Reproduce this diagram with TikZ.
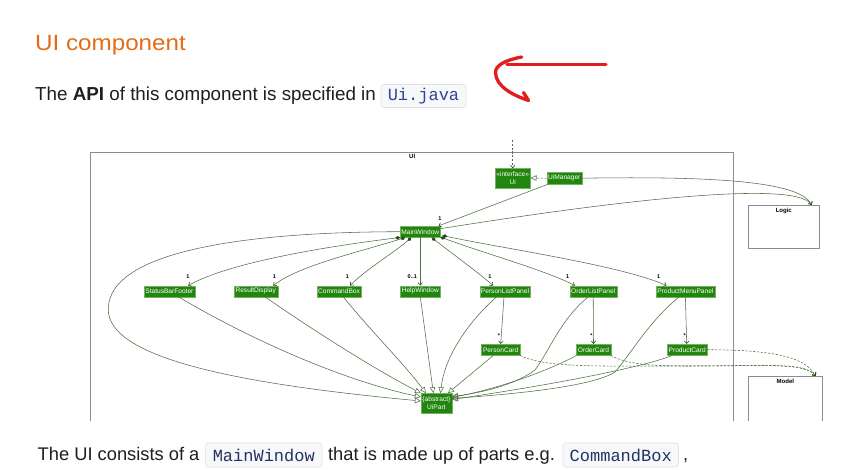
\documentclass[tikz,border=0pt]{standalone}
\usepackage{graphicx}
\usepackage{fontspec}
\setmainfont{Liberation Sans}
\newfontfamily\codefont{Liberation Mono}
\usetikzlibrary{arrows.meta,calc}
\definecolor{umlgreen}{RGB}{33,134,13}
\definecolor{umledge}{RGB}{120,175,100}
\definecolor{umlline}{RGB}{78,112,66}
\definecolor{umldark}{RGB}{30,80,20}
\definecolor{framegray}{RGB}{140,140,140}
\definecolor{titleorange}{RGB}{228,108,22}
\definecolor{redpen}{RGB}{226,29,29}
\definecolor{codebg}{RGB}{246,248,250}
\definecolor{codeborder}{RGB}{222,226,230}
\definecolor{codeblue}{RGB}{45,70,150}
\definecolor{codenavy}{RGB}{35,50,100}
\definecolor{bodytext}{RGB}{30,30,30}
\tikzset{
  umlbox/.style={draw=umledge, line width=0.3pt, fill=umlgreen, text=white,
    font=\fontsize{6.6}{7.4}\selectfont, inner sep=0pt, align=center},
  mult/.style={font=\bfseries\fontsize{5.5}{6}\selectfont, inner sep=0pt, text=black},
  conn/.style={draw=umlline, line width=0.55pt},
  compo/.style={conn, arrows={Diamond[length=5pt,width=3.6pt,fill=umldark,color=umldark]-Straight Barb[length=2.5pt,width=4.5pt,color=umldark]}},
  assoc/.style={conn, arrows={-Straight Barb[length=2.5pt,width=4.5pt,color=umldark]}},
  inherit/.style={conn, arrows={-Triangle[open,length=6pt,width=5.5pt,color=umlline]}},
  depend/.style={conn, dash pattern=on 2.2pt off 1.6pt, arrows={-Straight Barb[length=2.5pt,width=4.5pt,color=umldark]}},
  realize/.style={conn, dash pattern=on 2.2pt off 1.6pt, arrows={-Triangle[open,length=6pt,width=5.5pt,color=umlline]}},
  pkgbox/.style={draw=framegray, line width=0.8pt, inner sep=0pt},
  pkgtitle/.style={font=\bfseries\fontsize{6}{7}\selectfont, inner sep=0pt, text=black},
  codebox/.style={draw=codeborder, fill=codebg, rounded corners=3pt, inner sep=0pt, line width=0.6pt},
  bodyline/.style={anchor=base west, inner sep=0pt, text=bodytext, font=\fontsize{18.3}{22}\selectfont},
}
\begin{document}
\begin{tikzpicture}[x=1pt,y=-1pt]
\useasboundingbox (0,0) rectangle (854,470);
\fill[white] (0,0) rectangle (854,470);

% ---- page text ----
\node[anchor=base west, inner sep=0pt, text=titleorange, font=\fontsize{22}{26}\selectfont] (title) at (35,51) {\scalebox{1.1}[1]{UI component}};
\node[bodyline, font=\fontsize{18.8}{22}\selectfont] (api) at (35,101) {The \textbf{API} of this component is specified in};
\node[codebox, minimum width=85pt, minimum height=23pt, text=codeblue, font=\codefont\fontsize{17}{20}\selectfont] (uijava) at (423.5,96) {Ui.java};

% red hand-drawn arrow
\draw[redpen, line width=3.3pt, line cap=round] (606,64.7) -- (507,64.7);
\draw[redpen, line width=3.3pt, line cap=round, line join=round]
  (521.7,57) .. controls (506,60) and (495,65) .. (495.5,73)
  .. controls (496,86) and (512,95) .. (528.5,100.5) -- (523.5,92.5);

% bottom text
\node[bodyline] (b1) at (37.5,460) {The UI consists of a};
\node[codebox, minimum width=116.4pt, minimum height=24pt, text=codenavy, font=\codefont\fontsize{17}{20}\selectfont] (bmw) at (263.8,455) {MainWindow};
\node[bodyline] (b2) at (327.9,460) {that is made up of parts e.g.};
\node[codebox, minimum width=115.5pt, minimum height=24pt, text=codenavy, font=\codefont\fontsize{17}{20}\selectfont] (bcb) at (620.75,455) {CommandBox};
\node[bodyline] (b3) at (683,460) {,};

% ---- diagram ----
\begin{scope}
\clip (0,120) rectangle (854,420);
\node[pkgbox, minimum width=643pt, minimum height=300pt, anchor=north west] (uipkg) at (90.3,152.3) {};
\node[pkgtitle, anchor=north] (uilbl) at ($(uipkg.north)+(0,2.2)$) {UI};
\node[pkgbox, minimum width=71pt, minimum height=43pt] (logic) at (783.8,226.8) {};
\node[pkgtitle, anchor=north] (logiclbl) at ($(logic.north)+(0,3)$) {Logic};
\node[pkgbox, minimum width=73.4pt, minimum height=64pt, anchor=north west] (model) at (748.3,376) {};
\node[pkgtitle, anchor=north] (modellbl) at ($(model.north)+(0,3)$) {Model};

% classes
\node[umlbox, minimum width=35.3pt, minimum height=19.4pt] (ui) at (512.7,178) {«interface»\\Ui};
\node[umlbox, minimum width=34.7pt, minimum height=11.7pt] (uim) at (564.3,178.2) {UiManager};
\node[umlbox, minimum width=40pt, minimum height=11.3pt] (mw) at (420.3,231.7) {MainWindow};
\node[umlbox, minimum width=51.3pt, minimum height=11pt] (sbf) at (169.4,291.2) {StatusBarFooter};
\node[umlbox, minimum width=44pt, minimum height=11pt] (rd) at (255.7,291.2) {ResultDisplay};
\node[umlbox, minimum width=44pt, minimum height=11pt] (cb) at (339,291.2) {CommandBox};
\node[umlbox, minimum width=40pt, minimum height=11pt] (hw) at (420.3,291.2) {HelpWindow};
\node[umlbox, minimum width=50.6pt, minimum height=11pt] (plp) at (505,291.2) {PersonListPanel};
\node[umlbox, minimum width=47pt, minimum height=11pt] (olp) at (593.2,291.2) {OrderListPanel};
\node[umlbox, minimum width=58.7pt, minimum height=11pt] (pmp) at (685.4,291.2) {ProductMenuPanel};
\node[umlbox, minimum width=38.7pt, minimum height=11.3pt] (pc) at (500.7,349.7) {PersonCard};
\node[umlbox, minimum width=34.4pt, minimum height=11.3pt] (oc) at (593.5,349.7) {OrderCard};
\node[umlbox, minimum width=40.3pt, minimum height=11.3pt] (pdc) at (687.2,349.7) {ProductCard};
\node[umlbox, minimum width=30.7pt, minimum height=19.4pt] (up) at (436.4,403) {\{abstract\}\\UiPart};

% interface links
\coordinate (extern) at (512.7,140);
\draw[depend] (extern) -- (ui.north);
\draw[realize] (uim.west) -- (ui.east);
\draw[assoc] ($(uim.south west)+(1.3,0)$) -- ($(mw.north east)+(-2,0)$);
\node[mult] (m0) at (440,218.5) {1};

% to Logic
\draw[assoc] ($(mw.east)+(0,-3)$) .. controls (620,200) and (795,180) .. ($(logic.north east)+(-8,0)$);
\draw[assoc] (uim.east) .. controls (720,176) and (800,182) .. ($(logic.north east)+(-8,0)$);

% MainWindow parts
\draw[compo] (mw.south west) .. controls (330,246) and (230,262) .. ($(sbf.north east)+(-7,0)$);
\draw[compo] ($(mw.south west)+(5,0)$) .. controls (360,252) and (300,265) .. ($(rd.north east)+(-4.7,0)$);
\draw[compo] ($(mw.south)+(-9,0)$) .. controls (395,252) and (365,270) .. ($(cb.north east)+(-11,0)$);
\draw[assoc] (mw.south) -- (hw.north);
\draw[compo] ($(mw.south)+(11.4,0)$) .. controls (450,252) and (475,270) .. ($(plp.north west)+(13.6,0)$);
\draw[compo] ($(mw.south east)+(0,-0.5)$) .. controls (480,252) and (545,270) .. ($(olp.north west)+(5.3,0)$);
\draw[compo] ($(mw.south east)+(2,-2)$) .. controls (500,248) and (620,265) .. ($(pmp.north west)+(10.7,0)$);
\node[mult] (m1) at (188,276.7) {1};
\node[mult] (m2) at (274.3,276.7) {1};
\node[mult] (m3) at (347.3,276.7) {1};
\node[mult] (m4) at (412.3,276.7) {0..1};
\node[mult] (m5) at (490,276.7) {1};
\node[mult] (m6) at (567.7,276.7) {1};
\node[mult] (m7) at (658.7,276.7) {1};

% panels to cards
\draw[assoc] ($(plp.south)+(-1,0)$) -- (pc.north);
\draw[assoc] (olp.south) -- (oc.north);
\draw[assoc] (pmp.south) -- ($(pdc.north)+(-0.5,0)$);
\node[mult] (s1) at (499,335.5) {*};
\node[mult] (s2) at (591.5,335.5) {*};
\node[mult] (s3) at (684.8,335.5) {*};

% cards to Model
\draw[depend] (pc.south east) .. controls (545,368) and (600,366) .. (680,366)
  .. controls (760,366) and (805,362) .. ($(model.north east)+(-7,0)$);
\draw[depend] (oc.south east) .. controls (630,366) and (660,366) .. (700,366)
  .. controls (770,366) and (805,362) .. ($(model.north east)+(-7,0)$);
\draw[depend] (pdc.east) .. controls (770,350) and (805,356) .. ($(model.north east)+(-7,0)$);

% inheritance to UiPart
\draw[inherit] (mw.west) .. controls (250,232) and (110,250) .. (108.3,308.3)
  .. controls (106,360) and (250,385) .. ($(up.west)+(0,-2)$);
\draw[inherit] ($(sbf.south)+(9,0)$) .. controls (260,345) and (350,382) .. ($(up.west)+(0,-6)$);
\draw[inherit] ($(rd.south)+(9.3,0)$) .. controls (320,335) and (380,372) .. (up.north west);
\draw[inherit] ($(cb.south)+(4.3,0)$) .. controls (370,330) and (405,365) .. ($(up.north west)+(5,0)$);
\draw[inherit] (hw.south) -- ($(up.north)+(-3,0)$);
\draw[inherit] ($(plp.south)+(-8.3,0)$) .. controls (470,320) and (445,355) .. ($(up.north)+(4,0)$);
\draw[inherit] ($(pc.south)+(-7.4,0)$) -- ($(up.north east)+(-4,0)$);
\draw[inherit] ($(olp.south)+(-4.9,0)$) .. controls (560,320) and (550,350) .. (535,370)
  .. controls (515,385) and (480,393) .. ($(up.east)+(0,-6.5)$);
\draw[inherit] ($(oc.south west)+(0.4,0)$) .. controls (545,372) and (500,388) .. ($(up.east)+(0,-5.5)$);
\draw[inherit] ($(pmp.south)+(-6.1,0)$) .. controls (650,320) and (630,355) .. (615,372)
  .. controls (590,388) and (500,395) .. ($(up.east)+(0,-4.5)$);
\draw[inherit] ($(pdc.south)+(-14.9,0)$) .. controls (640,368) and (550,385) .. ($(up.east)+(0,-3.5)$);
\end{scope}
\end{tikzpicture}
\end{document}
